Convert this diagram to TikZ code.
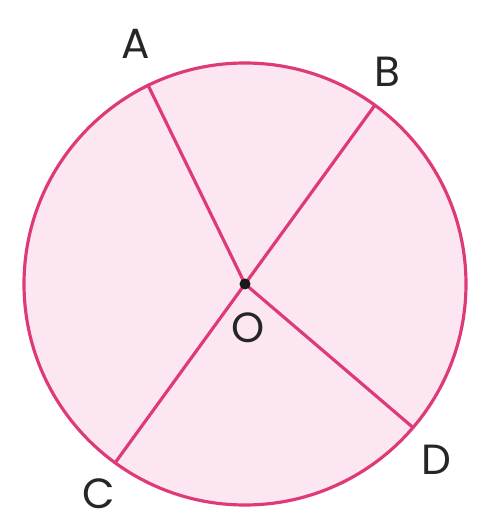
\documentclass[tikz,border=0pt]{standalone}
\usepackage{fontspec}
\setmainfont{Poppins}
\usetikzlibrary{positioning}
\definecolor{rosa_borde}{RGB}{222,58,120}
\definecolor{rosa_fondo}{RGB}{252,230,242}

\begin{document}
\begin{tikzpicture}[
        radio/.style={draw=rosa_borde, line width=1.8pt},
        etiq/.style={font=\fontsize{24}{28}\selectfont, text=black!85, inner sep=0pt}]

        \useasboundingbox (-4.9,-4.78) rectangle (4.8,5.68);

        % circulo y puntos
        \coordinate (O) at (0,0);
        \coordinate (A) at (116:4.42);
        \coordinate (B) at (54:4.42);
        \coordinate (C) at (234:4.42);
        \coordinate (D) at (-40.5:4.42);

        \draw[radio, fill=rosa_fondo] (O) circle (4.42);

        % radios y diametro
        \draw[radio] (O) -- (A);
        \draw[radio] (B) -- (C);
        \draw[radio] (O) -- (D);
        \fill[black!90] (O) circle (0.11);

        % etiquetas
        \node[etiq] (lA) at (-2.18,4.8)  {A};
        \node[etiq] (lB) at (2.84,4.24)  {B};
        \node[etiq] (lC) at (-2.92,-4.2) {C};
        \node[etiq] (lD) at (3.82,-3.52) {D};
        \node[etiq] (lO) at (0.06,-0.88) {O};
    \end{tikzpicture}
\end{document}
